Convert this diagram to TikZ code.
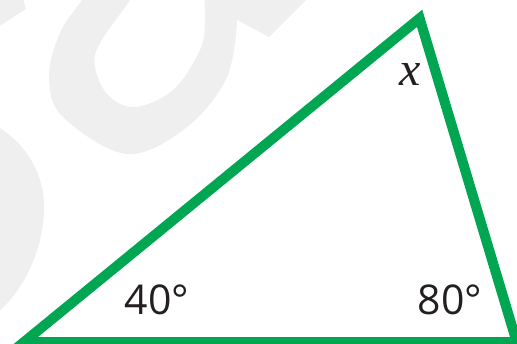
\documentclass[tikz,border=0pt]{standalone}
\usepackage{fontspec}
\setmainfont{Open Sans}
\newfontfamily\xfont{Liberation Serif}
\definecolor{trigreen}{HTML}{00A651}
\definecolor{wmgray}{HTML}{EFEFEF}
\definecolor{txt}{HTML}{231F20}
\begin{document}
\begin{tikzpicture}[x=1pt,y=-1pt,
  edge/.style={draw=trigreen,line width=10pt,line join=miter},
  anglabel/.style={text=txt,font=\fontsize{41}{41}\selectfont,inner sep=0pt},
  wm/.style={fill=wmgray,draw=none}]
\useasboundingbox (0,0) rectangle (517,343);
\clip (0,0) rectangle (517,343);
% watermark
\fill[wm,even odd rule]
  plot[smooth,tension=0.6] coordinates {(95,-20) (82,0) (60,33) (49,77) (63,117) (127,154) (187,127) (227,77) (237,20)}
  -- (269,37) -- (310,-4) -- (310,-20) -- cycle
  plot[smooth,tension=0.6] coordinates {(140,-20) (130,0) (100,43) (95,67) (108,95) (135,107) (173,90) (200,50) (205,20) (203,-20)} -- cycle;
\fill[wm] (-5,-5) -- (22,-5) -- (26,9) -- (-5,29) -- cycle;
\fill[wm] (-5,125) .. controls (30,145) and (46,180) .. (44,213) .. controls (42,250) and (25,290) .. (-5,315) -- cycle;
% triangle
\coordinate (A) at (24,342);
\coordinate (B) at (419.6,18.3);
\coordinate (C) at (516.7,342);
\draw[edge] (A) -- (B) -- (C) -- cycle;
\node[anglabel] (la) at (157,300) {40°};
\node[anglabel] (lc) at (450,300) {80°};
\node[text=txt,font=\xfont\itshape\fontsize{48}{48}\selectfont,inner sep=0pt,anchor=base] (lb) at (410,85) {x};
\end{tikzpicture}
\end{document}
